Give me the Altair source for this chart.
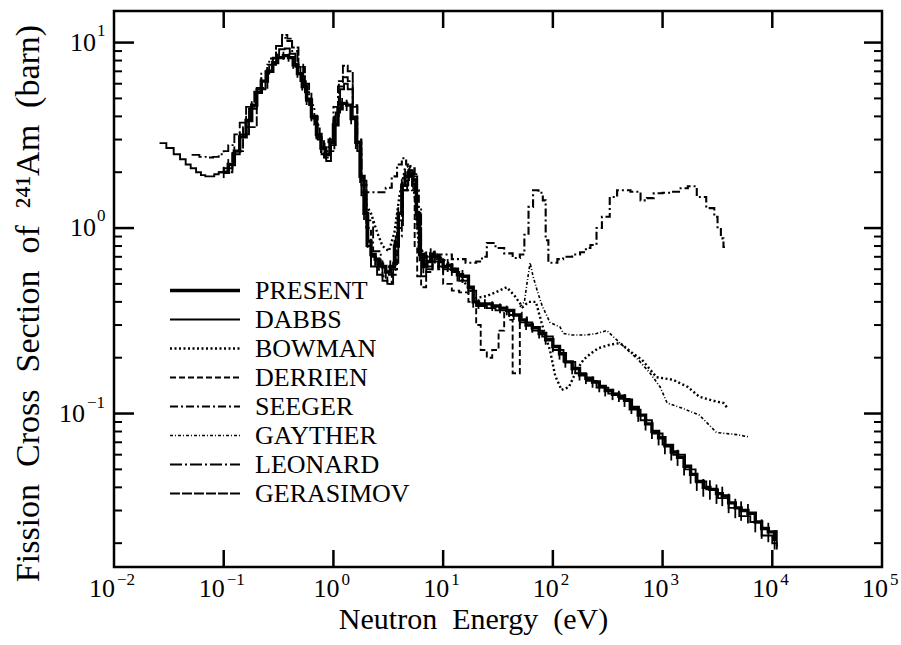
import altair as alt
import pandas as pd

# ---------------- data ----------------
series_order = ["PRESENT", "DABBS", "BOWMAN", "DERRIEN", "SEEGER", "GAYTHER", "LEONARD", "GERASIMOV"]

present_E = [0.1, 0.11, 0.125, 0.14, 0.16, 0.18, 0.2, 0.22, 0.25, 0.28,
             0.31, 0.35, 0.39, 0.43, 0.47, 0.52, 0.57, 0.63, 0.7, 0.77,
             0.85, 0.93, 1.0, 1.1, 1.2, 1.32, 1.45, 1.6, 1.75, 1.9,
             2.05, 2.2, 2.4, 2.6, 2.8, 3.0, 3.3, 3.6, 3.9, 4.2,
             4.5, 4.9, 5.3, 5.7, 6.1, 6.6, 7.1, 7.7, 8.4, 9.2,
             10, 11, 12, 13.5, 15, 17, 18.8, 21, 24, 28,
             33, 38, 44, 50, 57, 65, 75, 86, 100, 115,
             130, 150, 175, 200, 230, 265, 300, 350, 400, 450,
             520, 600, 700, 800, 920, 1050, 1200, 1370, 1570, 1800,
             2050, 2350, 2700, 3100, 3500, 4000, 4600, 5200, 6000, 7000,
             8000, 9200, 10500, 11000]
present_sigma = [2.0, 2.2, 2.6, 3.1, 3.8, 4.6, 5.4, 6.2, 7.0, 7.8,
                 8.3, 8.5, 8.3, 7.6, 6.8, 5.8, 4.9, 4.0, 3.2, 2.7,
                 2.5, 2.9, 3.6, 4.4, 4.7, 4.6, 3.9, 2.9, 1.9, 1.2,
                 0.85, 0.72, 0.68, 0.64, 0.62, 0.58, 0.62, 0.8, 1.2, 1.7,
                 1.9, 1.95, 1.8, 1.2, 0.72, 0.62, 0.66, 0.72, 0.70, 0.66,
                 0.62, 0.63, 0.6, 0.56, 0.55, 0.48, 0.40, 0.39, 0.39, 0.38,
                 0.37, 0.36, 0.34, 0.32, 0.30, 0.29, 0.27, 0.25, 0.23, 0.21,
                 0.19, 0.175, 0.162, 0.155, 0.148, 0.14, 0.133, 0.127, 0.124, 0.118,
                 0.108, 0.098, 0.088, 0.08, 0.074, 0.067, 0.062, 0.058, 0.052, 0.047,
                 0.043, 0.040, 0.039, 0.037, 0.036, 0.033, 0.031, 0.030, 0.029, 0.026,
                 0.024, 0.023, 0.021, 0.021]
present_err_pct = [7, 7, 6, 6, 6, 5, 5, 5, 5, 5,
                   5, 5, 5, 5, 5, 5, 6, 6, 6, 6,
                   6, 6, 7, 7, 7, 7, 7, 8, 8, 8,
                   8, 8, 8, 8, 8, 8, 8, 8, 8, 8,
                   8, 8, 8, 8, 8, 8, 8, 8, 8, 8,
                   8, 8, 8, 8, 8, 8, 7, 6, 6, 6,
                   6, 6, 6, 6, 6, 6, 6, 6, 7, 7,
                   7, 7, 7, 7, 7, 7, 7, 7, 7, 8,
                   8, 8, 8, 9, 9, 10, 10, 10, 11, 11,
                   11, 11, 12, 12, 12, 12, 12, 12, 12, 12,
                   12, 12, 12, 12]

dabbs_E = [0.026, 0.03, 0.035, 0.04, 0.045, 0.05, 0.056, 0.062, 0.068, 0.075,
           0.082, 0.09, 0.1, 0.12, 0.14, 0.17, 0.2, 0.24, 0.28, 0.32,
           0.36, 0.4, 0.45, 0.5, 0.56, 0.63, 0.7, 0.78, 0.86, 0.95,
           1.05, 1.15, 1.25, 1.35, 1.5, 1.65, 1.8, 2.0, 2.2, 2.5,
           2.8, 3.1, 3.5, 3.9, 4.3, 4.8, 5.3, 5.8, 6.3, 7,
           8, 9, 10, 12, 14, 17, 20, 25, 30, 40,
           50, 65, 80, 100, 125, 160, 200, 250, 320, 400,
           500, 630, 800, 1000, 1250, 1600, 2000, 2500, 3200, 4000,
           5000, 6300, 8000, 10000, 11000]
dabbs_sigma = [2.87, 2.7, 2.5, 2.35, 2.2, 2.1, 2.0, 1.93, 1.9, 1.9,
               1.95, 2.0, 2.1, 2.5, 3.2, 4.4, 5.6, 7.0, 8.3, 9.2,
               9.3, 8.7, 7.4, 6.2, 5.0, 3.9, 3.1, 2.5, 2.3, 2.8,
               4.2, 5.6, 6.0, 5.6, 4.0, 2.6, 1.5, 0.8, 0.62, 0.56,
               0.52, 0.5, 0.65, 1.1, 1.7, 2.05, 1.9, 1.0, 0.55, 0.6,
               0.7, 0.68, 0.6, 0.58, 0.52, 0.46, 0.38, 0.37, 0.36, 0.34,
               0.31, 0.28, 0.26, 0.22, 0.19, 0.165, 0.15, 0.138, 0.128, 0.12,
               0.105, 0.092, 0.078, 0.068, 0.06, 0.05, 0.043, 0.039, 0.035, 0.031,
               0.028, 0.026, 0.022, 0.02, 0.019]

bowman_E = [1.9, 2.2, 2.5, 2.8, 3.2, 3.6, 4.0, 4.5, 5.0, 5.5,
            6, 7, 8, 10, 13, 16, 20, 25, 30, 38,
            45, 53, 60, 70, 80, 94, 105, 120, 140, 165,
            190, 220, 260, 330, 410, 540, 650, 880, 1250, 1700,
            2170, 3100, 3600, 3900]
bowman_sigma = [1.4, 1.2, 0.95, 0.8, 0.75, 0.95, 1.5, 2.1, 2.2, 1.5,
                0.8, 0.7, 0.75, 0.68, 0.6, 0.5, 0.42, 0.43, 0.45, 0.48,
                0.43, 0.375, 0.4, 0.4, 0.3, 0.22, 0.16, 0.134, 0.139, 0.171,
                0.195, 0.21, 0.225, 0.235, 0.24, 0.21, 0.195, 0.157, 0.152, 0.139,
                0.123, 0.116, 0.114, 0.107]

derrien_E = [1.8, 2.0, 2.2, 2.5, 2.8, 3.1, 3.4, 3.8, 4.3, 4.8,
             5.2, 5.5, 5.8, 6.3, 7.0, 8, 9, 10, 11, 12,
             14, 17, 20, 22, 25, 28, 32, 36, 40, 43,
             46, 50, 52, 58, 65]
derrien_sigma = [1.7, 1.0, 0.7, 0.62, 0.55, 0.5, 0.6, 1.0, 1.6, 1.9,
                 1.6, 0.8, 0.55, 0.48, 0.58, 0.66, 0.6, 0.5, 0.5, 0.46,
                 0.45, 0.4, 0.3, 0.22, 0.2, 0.22, 0.28, 0.35, 0.32, 0.165,
                 0.165, 0.35, 0.33, 0.3, 0.3]

seeger_E = [1.8, 2.2, 2.6, 3.0, 3.4, 3.8, 4.2, 4.6, 5.0, 5.5,
            6.0, 7, 9, 12, 16, 20, 22.6, 25, 30, 36,
            43, 50, 55, 60, 66, 74, 81, 86, 91, 110,
            124, 150, 177, 200, 220, 250, 280, 330, 385, 440,
            510, 630, 720, 830, 1000, 1200, 1460, 1700, 2050, 2500,
            2960, 3170, 3400, 3590, 3700]
seeger_sigma = [1.56, 1.56, 1.56, 1.65, 1.9, 2.2, 2.38, 2.2, 2.1, 1.6,
                0.75, 0.7, 0.72, 0.68, 0.65, 0.66, 0.70, 0.83, 0.78, 0.73,
                0.69, 0.72, 0.92, 1.3, 1.6, 1.55, 1.41, 0.86, 0.65, 0.68,
                0.70, 0.72, 0.74, 0.78, 0.81, 1.0, 1.15, 1.47, 1.6, 1.6,
                1.57, 1.41, 1.45, 1.54, 1.55, 1.57, 1.64, 1.68, 1.47, 1.28,
                1.15, 1.01, 0.88, 0.79, 0.79]

gayther_E = [50, 55, 58, 62, 66, 72, 80, 94, 116, 125,
             150, 200, 250, 310, 410, 500, 600, 770, 950, 1100,
             1500, 2170, 3100, 4700, 6000]
gayther_sigma = [0.375, 0.4, 0.5, 0.65, 0.55, 0.46, 0.38, 0.31, 0.293, 0.27,
                 0.265, 0.265, 0.27, 0.28, 0.24, 0.215, 0.195, 0.165, 0.139, 0.114,
                 0.107, 0.098, 0.079, 0.077, 0.075]

leonard_E = [0.051, 0.06, 0.07, 0.08, 0.09, 0.1, 0.11, 0.125, 0.14, 0.16,
             0.19, 0.22, 0.26, 0.3, 0.34, 0.38, 0.42, 0.47, 0.53, 0.6,
             0.67, 0.75, 0.83, 0.9, 1.0, 1.1, 1.22, 1.35, 1.5, 1.65,
             1.8, 2.0, 2.3, 2.7, 3.2, 3.7, 4.2, 4.7, 5.2, 5.7,
             6.3, 7, 8, 9, 10]
leonard_sigma = [2.48, 2.42, 2.4, 2.42, 2.5, 2.6, 2.8, 3.2, 3.7, 4.5,
                 5.6, 6.8, 8.2, 9.6, 10.6, 10.2, 9.0, 7.6, 6.0, 4.6,
                 3.6, 2.9, 2.6, 3.0, 4.5, 5.8, 6.5, 6.2, 4.5, 3.0,
                 1.8, 1.1, 0.75, 0.62, 0.56, 0.9, 1.6, 2.0, 1.95, 1.3,
                 0.7, 0.62, 0.68, 0.62, 0.58]

gerasimov_E = [0.09, 0.12, 0.15, 0.2, 0.25, 0.3, 0.34, 0.38, 0.42, 0.48,
               0.55, 0.63, 0.72, 0.82, 0.92, 1.02, 1.12, 1.22, 1.35, 1.5,
               1.65, 1.8, 2.0]
gerasimov_sigma = [2.0, 2.6, 3.5, 5.7, 7.6, 9.6, 11.0, 10.5, 9.4, 7.4,
                   5.4, 4.0, 3.0, 2.4, 2.6, 4.0, 6.2, 7.5, 7.0, 4.6,
                   2.9, 1.7, 1.0]

x_tick_exps = [-2, -1, 0, 1, 2, 3, 4, 5]
y_tick_exps = [-1, 0, 1]
y_minor_ticks = [0.02, 0.03, 0.04, 0.05, 0.06, 0.07, 0.08, 0.09,
                 0.2, 0.3, 0.4, 0.5, 0.6, 0.7, 0.8, 0.9,
                 2, 3, 4, 5, 6, 7, 8, 9]

SP = "\u00a0 "  # wide (double) word spacing as in the original
x_title = SP.join(["Neutron", "Energy", "(eV)"])
y_title = SP.join(["Fission", "Cross", "Section", "of", "\u00b2\u2074\u00b9Am", "(barn)"])

# ---------------- styles ----------------
dash_range = [[1, 0], [1, 0], [2, 2.5], [6, 3], [8, 3, 2, 3], [3, 2, 1, 2], [12, 3, 2, 3], [10, 2]]
width_range = [3.4, 1.9, 2.4, 1.9, 2.1, 1.6, 1.9, 1.9]
step_series = ["PRESENT", "DABBS", "DERRIEN", "SEEGER", "LEONARD", "GERASIMOV"]
FONT = "Liberation Serif"
W, H = 768, 556

# ---------------- tables ----------------
pairs = {
    "PRESENT": (present_E, present_sigma), "DABBS": (dabbs_E, dabbs_sigma),
    "BOWMAN": (bowman_E, bowman_sigma), "DERRIEN": (derrien_E, derrien_sigma),
    "SEEGER": (seeger_E, seeger_sigma), "GAYTHER": (gayther_E, gayther_sigma),
    "LEONARD": (leonard_E, leonard_sigma), "GERASIMOV": (gerasimov_E, gerasimov_sigma),
}
rows = []
for name in series_order:
    Es, Ss = pairs[name]
    assert len(Es) == len(Ss), name
    for i, (e, s) in enumerate(zip(Es, Ss)):
        rows.append({"series": name, "E": e, "sigma": s, "idx": i})
df = pd.DataFrame(rows)
df_step = df[df.series.isin(step_series)]
df_lin = df[~df.series.isin(step_series)]

assert len(present_E) == len(present_err_pct)
err_df = pd.DataFrame({
    "E": present_E,
    "lo": [s * (1 - p / 100) for s, p in zip(present_sigma, present_err_pct)],
    "hi": [s * (1 + p / 100) for s, p in zip(present_sigma, present_err_pct)],
})

xlab = pd.DataFrame({"E": [10.0 ** e for e in x_tick_exps], "exp": x_tick_exps,
                     "base": ["10"] * len(x_tick_exps),
                     "sup": [str(e).replace("-", "\u2212") for e in x_tick_exps]})
ylab = pd.DataFrame({"sigma": [10.0 ** e for e in y_tick_exps], "exp": y_tick_exps,
                     "base": ["10"] * len(y_tick_exps),
                     "sup": [str(e).replace("-", "\u2212") for e in y_tick_exps]})
y_major = pd.DataFrame({"sigma": [10.0 ** e for e in y_tick_exps]})
y_minor = pd.DataFrame({"sigma": y_minor_ticks})
x_major = pd.DataFrame({"E": [10.0 ** e for e in x_tick_exps[1:-1]]})

# ---------------- scales & axes ----------------
xs = alt.Scale(type="log", domain=[0.01, 1e5], nice=False)
ys = alt.Scale(type="log", domain=[0.01488, 14.8], nice=False)

x_axis = alt.Axis(
    title=x_title, labels=False, ticks=False, domain=False, grid=False,
    titleFont=FONT, titleFontSize=30, titleFontWeight="normal", titleColor="black",
    titleX=359, titleY=61, titleBaseline="alphabetic", titleAlign="center")
y_axis = alt.Axis(
    title=y_title, labels=False, ticks=False, domain=False, grid=False,
    titleFont=FONT, titleFontSize=34, titleFontWeight="normal", titleColor="black",
    titleX=-86, titleY=292, titleAngle=270, titleBaseline="middle", titleAlign="center")


def X(field):
    return alt.X(f"{field}:Q", scale=xs, axis=x_axis, title=x_title)


def Y(field):
    return alt.Y(f"{field}:Q", scale=ys, axis=y_axis, title=y_title)


legend = alt.Legend(title=None, orient="none", legendX=54, legendY=265, direction="vertical",
                    symbolType="stroke", symbolSize=4900, clipHeight=29, rowPadding=0,
                    labelFont=FONT, labelFontSize=26, labelColor="black", labelOffset=13,
                    labelLimit=0, symbolStrokeColor="black", padding=0, symbolOffset=0)

dash_enc = alt.StrokeDash("series:N", scale=alt.Scale(domain=series_order, range=dash_range),
                          legend=legend)
sw_enc = alt.StrokeWidth("series:N", scale=alt.Scale(type="ordinal", domain=series_order, range=width_range),
                         legend=legend)

lines_step = alt.Chart(df_step).mark_line(interpolate="step-after", color="black").encode(
    x=X("E"), y=Y("sigma"), strokeDash=dash_enc, strokeWidth=sw_enc, detail="series:N", order="idx:Q")
lines_lin = alt.Chart(df_lin).mark_line(color="black").encode(
    x=X("E"), y=Y("sigma"), strokeDash=dash_enc, strokeWidth=sw_enc, detail="series:N", order="idx:Q")

errbars = alt.Chart(err_df).mark_rule(color="black", strokeWidth=1.8).encode(
    x=X("E"), y=Y("lo"), y2="hi:Q")


# ticks (pointing inwards)
def yticks(data, x0, x1, sw):
    return alt.Chart(data).mark_rule(color="black", strokeWidth=sw).encode(
        y=Y("sigma"), x=alt.value(x0), x2=alt.value(x1))


def xticks(data, y0, y1, sw):
    return alt.Chart(data).mark_rule(color="black", strokeWidth=sw).encode(
        x=X("E"), y=alt.value(y0), y2=alt.value(y1))


tick_layers = [
    yticks(y_major, 0, 20, 2.5), yticks(y_major, W - 18, W, 2.5),
    yticks(y_minor, 0, 8, 2), yticks(y_minor, W - 8, W, 2),
    xticks(x_major, H - 17, H, 2.5), xticks(x_major, 0, 17, 2.5),
]


# tick labels: "10" with raised exponent
def xlab_layer(neg, field, align, dx, yv, size):
    cond = "datum.exp < 0" if neg else "datum.exp >= 0"
    return alt.Chart(xlab).transform_filter(cond).mark_text(
        align=align, baseline="alphabetic", dx=dx, font=FONT, fontSize=size, color="black").encode(
        x=X("E"), y=alt.value(yv), text=f"{field}:N")


def ylab_layer(neg, field, align, xv, dy, size):
    cond = "datum.exp < 0" if neg else "datum.exp >= 0"
    return alt.Chart(ylab).transform_filter(cond).mark_text(
        align=align, baseline="alphabetic", dy=dy, font=FONT, fontSize=size, color="black").encode(
        y=Y("sigma"), x=alt.value(xv), text=f"{field}:N")


label_layers = [
    xlab_layer(True, "base", "right", 1, H + 30, 26), xlab_layer(True, "sup", "left", 3, H + 18, 17),
    xlab_layer(False, "base", "right", 6, H + 30, 26), xlab_layer(False, "sup", "left", 8, H + 18, 17),
    ylab_layer(True, "base", "right", -29, 8, 26), ylab_layer(True, "sup", "left", -27, -6, 17),
    ylab_layer(False, "base", "right", -18, 8, 26), ylab_layer(False, "sup", "left", -17, -7, 17),
]

chart = alt.layer(lines_step, lines_lin, errbars, *tick_layers, *label_layers).properties(
    width=W, height=H, padding={"left": 114, "top": 11, "right": 19, "bottom": 78},
    autosize=alt.AutoSizeParams(type="none"), background="white",
).configure_view(stroke="black", strokeWidth=2.5)

chart.save("out.html", embed_options={"renderer": "svg", "actions": False})
